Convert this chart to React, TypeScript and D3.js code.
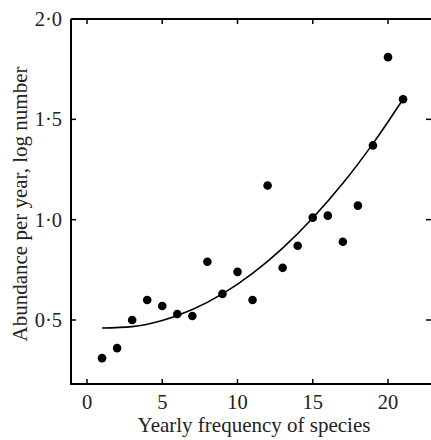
import React from "react";
import * as d3 from "d3";

const freq = [1, 2, 3, 4, 5, 6, 7, 8, 9, 10, 11, 12, 13, 14, 15, 16, 17, 18, 19, 20, 21];
const abundance = [0.31, 0.36, 0.5, 0.6, 0.57, 0.53, 0.52, 0.79, 0.63, 0.74, 0.6, 1.17, 0.76, 0.87, 1.01, 1.02, 0.89, 1.07, 1.37, 1.81, 1.6];
const fitX = [1, 3, 5, 7, 9, 11, 13, 15, 17, 19, 21];
const fitY = [0.46, 0.467, 0.497, 0.552, 0.63, 0.732, 0.858, 1.008, 1.181, 1.379, 1.6];
const xTicks = [0, 5, 10, 15, 20];
const yTicks = [0.5, 1.0, 1.5, 2.0];
const yTickLabels = ["0·5", "1·0", "1·5", "2·0"];

export default function App() {
  const W = 431, H = 440;
  const left = 71, top = 19, bottom = 384, right = 432;
  const x = d3.scaleLinear().domain([0, 20]).range([87, 388]);
  const y = d3.scaleLinear().domain([0.5, 2.0]).range([320, 19]);
  const line = d3.line<number>()
    .x((_, i) => x(fitX[i]))
    .y((d) => y(d))
    .curve(d3.curveMonotoneX);
  const font = "'Liberation Serif', 'Times New Roman', serif";
  const tl = 5;
  return (
    <svg width={W} height={H} style={{ position: "absolute", left: 0, top: 0, background: "#fff" }}>
      <g stroke="#000" strokeWidth={2} fill="none">
        <path d={`M${left},${top}H${right}M${left},${top}V${bottom}H${right}`} />
      </g>
      <g stroke="#000" strokeWidth={1.5}>
        {xTicks.map((t) => (
          <g key={"xt" + t}>
            <line x1={x(t)} x2={x(t)} y1={bottom} y2={bottom - tl} />
            <line x1={x(t)} x2={x(t)} y1={top} y2={top + tl} />
          </g>
        ))}
        {yTicks.map((t) => (
          <g key={"yt" + t}>
            <line x1={left} x2={left + tl} y1={y(t)} y2={y(t)} />
            <line x1={W - 5} x2={W} y1={y(t)} y2={y(t)} />
          </g>
        ))}
      </g>
      <g fontFamily={font} fontSize={20.5} fill="#222">
        {xTicks.map((t) => (
          <text key={"xl" + t} x={x(t)} y={409} textAnchor="middle">{t}</text>
        ))}
        {yTicks.map((t, i) => (
          <text key={"yl" + t} x={62} y={y(t) + 7} textAnchor="end">{yTickLabels[i]}</text>
        ))}
      </g>
      <g fontFamily={font} fontSize={21} fill="#222">
        <text x={254} y={432} textAnchor="middle">Yearly frequency of species</text>
        <text transform={`translate(27,204) rotate(-90)`} textAnchor="middle">Abundance per year, log number</text>
      </g>
      <path d={line(fitY) || ""} fill="none" stroke="#000" strokeWidth={1.6} />
      <g fill="#000">
        {freq.map((f, i) => (
          <circle key={"p" + f} cx={x(f)} cy={y(abundance[i])} r={4.3} />
        ))}
      </g>
    </svg>
  );
}
